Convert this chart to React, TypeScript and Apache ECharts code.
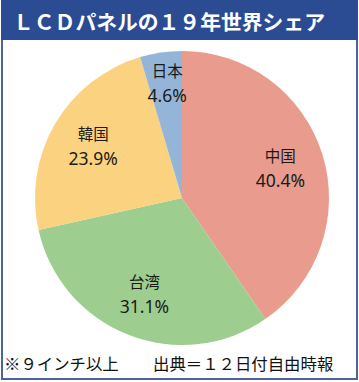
import React, { useEffect, useRef } from "react";
import * as echarts from "echarts";

const categories = ["中国", "台湾", "韓国", "日本"];
const shares = [40.4, 31.1, 23.9, 4.6];
const sliceColors = ["#E99C8D", "#9DCE8F", "#FBD27F", "#94B4D8"];
const titleText = "ＬＣＤパネルの１９年世界シェア";
const noteText = "※９インチ以上";
const sourceText = "出典＝１２日付自由時報";

export default function App() {
  const ref = useRef<HTMLDivElement>(null);
  useEffect(() => {
    if (!ref.current) return;
    const chart = echarts.init(ref.current, null, { renderer: "svg" });
    const font = '"Noto Sans CJK JP", "Noto Sans", sans-serif';
    const data = categories.map((c, i) => ({
      name: c,
      value: shares[i],
      itemStyle: { color: sliceColors[i] },
    }));
    chart.setOption({
      animation: false,
      backgroundColor: "#ffffff",
      graphic: [
        {
          type: "rect",
          shape: { x: 2, y: 1, width: 355, height: 378 },
          style: { fill: "none", stroke: "#4A6694", lineWidth: 2 },
          z: 10,
        },
        {
          type: "rect",
          shape: { x: 1, y: 0, width: 357, height: 40 },
          style: { fill: "#2B4B93" },
          z: 11,
        },
        {
          type: "text",
          x: 13,
          y: 21,
          style: {
            text: titleText,
            fill: "#ffffff",
            font: `bold 20.8px ${font}`,
            textVerticalAlign: "middle",
          },
          z: 12,
        },
        {
          type: "text",
          x: 4,
          y: 363,
          style: {
            text: noteText,
            fill: "#111111",
            font: `16.4px ${font}`,
            textVerticalAlign: "middle",
          },
          z: 12,
        },
        {
          type: "text",
          x: 153,
          y: 363,
          style: {
            text: sourceText,
            fill: "#111111",
            font: `16.4px ${font}`,
            textVerticalAlign: "middle",
          },
          z: 12,
        },
      ],
      series: [
        {
          type: "pie",
          center: [182, 198],
          radius: 147,
          startAngle: 90,
          clockwise: true,
          silent: true,
          label: { show: false },
          labelLine: { show: false },
          itemStyle: { borderWidth: 0 },
          emphasis: { disabled: true },
          data,
        },
        {
          type: "pie",
          center: [182, 198],
          radius: [53, 147],
          startAngle: 90,
          clockwise: true,
          silent: true,
          itemStyle: { color: "rgba(0,0,0,0)", borderWidth: 0 },
          emphasis: { disabled: true },
          labelLine: { show: false },
          label: {
            show: true,
            position: "inside",
            color: "#1a1a1a",
            fontFamily: font,
            formatter: (p: any) =>
              `{n|${p.name}}\n{p|${Number(p.value).toFixed(1)}%}`,
            rich: {
              n: { fontSize: 15.5, lineHeight: 25, fontFamily: font, color: "#1a1a1a" },
              p: {
                fontSize: 17.5,
                lineHeight: 25,
                fontFamily: '"Noto Sans", sans-serif',
                color: "#1a1a1a",
              },
            },
          },
          labelLayout: (p: any) => (p.dataIndex === 3 ? { dy: -14, dx: 0 } : {}),
          data: categories.map((c, i) => ({ name: c, value: shares[i] })),
        },
      ],
    });
    return () => chart.dispose();
  }, []);
  return (
    <div
      ref={ref}
      style={{ position: "absolute", left: 0, top: 0, width: 359, height: 382 }}
    />
  );
}
